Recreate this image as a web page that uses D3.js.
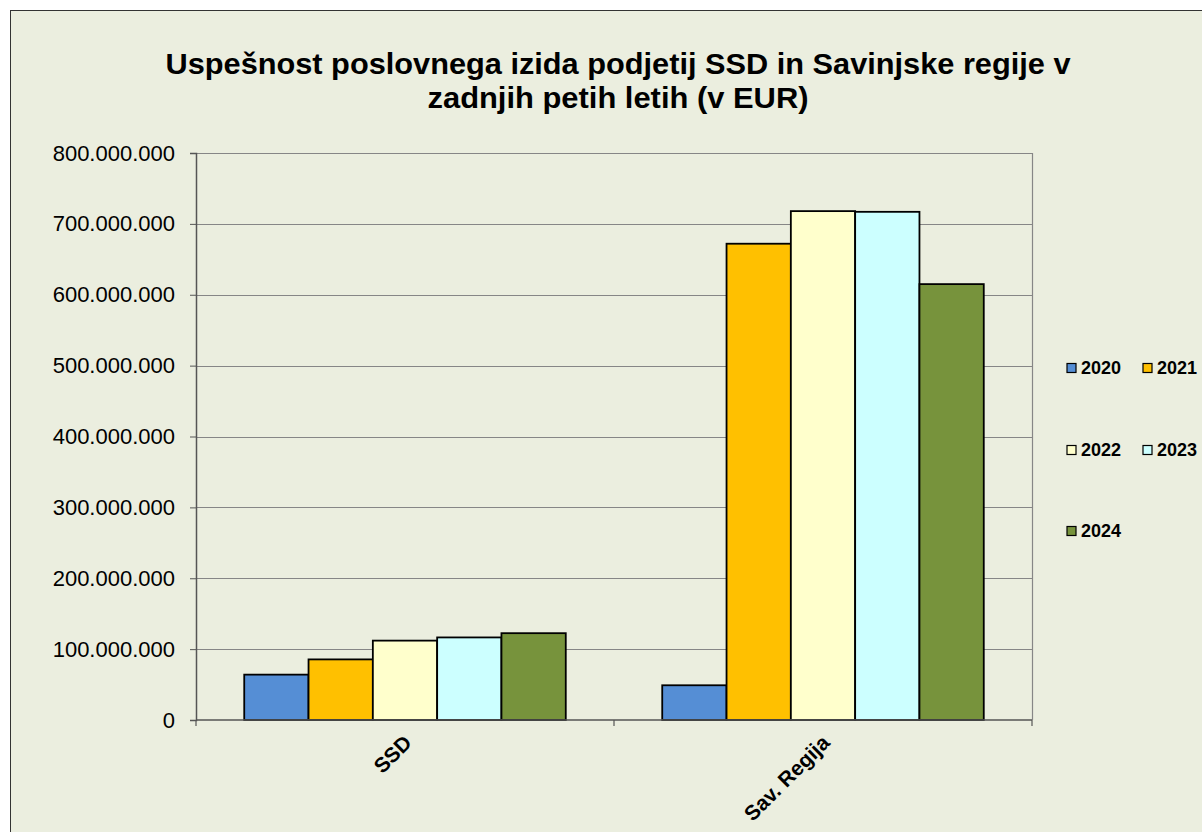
<!DOCTYPE html>
<html lang="sl">
<head>
<meta charset="utf-8">
<title>Uspešnost poslovnega izida</title>
<script src="https://cdn.jsdelivr.net/npm/d3@7"></script>
<style>
  body { margin: 0; background: #fff; }
  svg text { font-family: "Liberation Sans", Arial, sans-serif; fill: #000; }
  .title { font-size: 29px; font-weight: bold; }
  .yAxis text { font-size: 22px; }
  .xAxis text { font-size: 21px; font-weight: bold; }
  .legend text { font-size: 18px; font-weight: bold; }
</style>
</head>
<body>
<div class="chart"></div>
<script>
var categories = ["SSD", "Sav. Regija"];
var years = ["2020", "2021", "2022", "2023", "2024"];
var values2020 = [64000000, 49000000];
var values2021 = [85500000, 672000000];
var values2022 = [112000000, 718000000];
var values2023 = [116500000, 717000000];
var values2024 = [122500000, 615000000];
var yTicks = [0, 100000000, 200000000, 300000000, 400000000, 500000000, 600000000, 700000000, 800000000];
var colors = ["#558ed5", "#ffc000", "#ffffcc", "#ccffff", "#77933c"];

var series = [values2020, values2021, values2022, values2023, values2024];

var w = 1202, h = 832;
var plotL = 196, plotR = 1032, plotT = 153, plotB = 720;

var svg = d3.select("div.chart").append("svg")
  .attr("width", w).attr("height", h);

// chart area background + border
svg.append("rect")
  .attr("x", 10.5).attr("y", 10.5)
  .attr("width", w + 10).attr("height", h + 10)
  .attr("fill", "#ebeedf")
  .attr("stroke", "#333").attr("stroke-width", 1);

svg.append("text").attr("class", "title")
  .attr("text-anchor", "middle")
  .attr("x", 618).attr("y", 74)
  .attr("textLength", 905).attr("lengthAdjust", "spacingAndGlyphs")
  .text("Uspešnost poslovnega izida podjetij SSD in Savinjske regije v");
svg.append("text").attr("class", "title")
  .attr("text-anchor", "middle")
  .attr("x", 618).attr("y", 108)
  .attr("textLength", 381).attr("lengthAdjust", "spacingAndGlyphs")
  .text("zadnjih petih letih (v EUR)");

var yScale = d3.scaleLinear().domain([0, 800000000]).range([plotB, plotT]);
var xScale = d3.scaleBand().domain(categories).range([plotL, plotR]);
// excel gap width 150%
var barW = xScale.bandwidth() / (years.length + 1.5);
var xInner = d3.scaleBand().domain(years)
  .range([barW * 0.75, barW * 0.75 + barW * years.length]);

// gridlines
svg.append("g").selectAll("line")
  .data(yTicks.slice(1))
  .enter().append("line")
  .attr("x1", plotL).attr("x2", plotR)
  .attr("y1", d => Math.round(yScale(d)) + 0.5)
  .attr("y2", d => Math.round(yScale(d)) + 0.5)
  .attr("stroke", "#868686").attr("stroke-width", 1.2);

// right border of plot area
svg.append("line")
  .attr("x1", plotR + 0.5).attr("x2", plotR + 0.5)
  .attr("y1", plotT).attr("y2", plotB)
  .attr("stroke", "#868686").attr("stroke-width", 1.2);

// bars
var groups = svg.append("g").selectAll("g")
  .data(years)
  .enter().append("g")
  .attr("fill", (d, i) => colors[i]);

groups.selectAll("rect")
  .data((d, i) => series[i].map((v, j) => ({ cat: categories[j], year: d, value: v })))
  .enter().append("rect")
  .attr("x", d => xScale(d.cat) + xInner(d.year))
  .attr("y", d => yScale(d.value))
  .attr("width", barW)
  .attr("height", d => plotB - yScale(d.value))
  .attr("stroke", "#000").attr("stroke-width", 1.8);

// y axis
var yAxis = d3.axisLeft(yScale)
  .tickValues(yTicks)
  .tickSize(6)
  .tickPadding(15)
  .tickFormat(d => d3.format(",")(d).replace(/,/g, "."));

var gy = svg.append("g").attr("class", "yAxis")
  .attr("transform", "translate(" + plotL + ",0)")
  .call(yAxis);
gy.select(".domain").attr("stroke", "#555").attr("stroke-width", 1.5);
gy.selectAll(".tick line").attr("stroke", "#555");

// x axis
var gx = svg.append("g").attr("class", "xAxis")
  .attr("transform", "translate(0," + plotB + ")");
gx.append("line")
  .attr("x1", plotL).attr("x2", plotR)
  .attr("stroke", "#555").attr("stroke-width", 1.5);
gx.selectAll("line.tk")
  .data([plotL, plotR].concat(categories.slice(1).map(c => xScale(c))))
  .enter().append("line").attr("class", "tk")
  .attr("x1", d => d).attr("x2", d => d)
  .attr("y1", 0).attr("y2", 6)
  .attr("stroke", "#555").attr("stroke-width", 1.2);
gx.selectAll("text")
  .data(categories)
  .enter().append("text")
  .attr("text-anchor", "end")
  .attr("transform", d => "translate(" + (xScale(d) + xScale.bandwidth() / 2 + 8) + ",24) rotate(-45)")
  .text(d => d);

// legend
var legend = svg.append("g").attr("class", "legend");
var legendPos = [[1067, 368], [1143, 368], [1067, 450], [1143, 450], [1067, 531]];
var items = legend.selectAll("g")
  .data(years)
  .enter().append("g")
  .attr("transform", (d, i) => "translate(" + legendPos[i][0] + "," + legendPos[i][1] + ")");
items.append("rect")
  .attr("x", 0).attr("y", -4.5)
  .attr("width", 9).attr("height", 9)
  .attr("fill", (d, i) => colors[i])
  .attr("stroke", "#000").attr("stroke-width", 1.2);
items.append("text")
  .attr("x", 14).attr("dy", "0.36em")
  .text(d => d);
</script>
</body>
</html>
